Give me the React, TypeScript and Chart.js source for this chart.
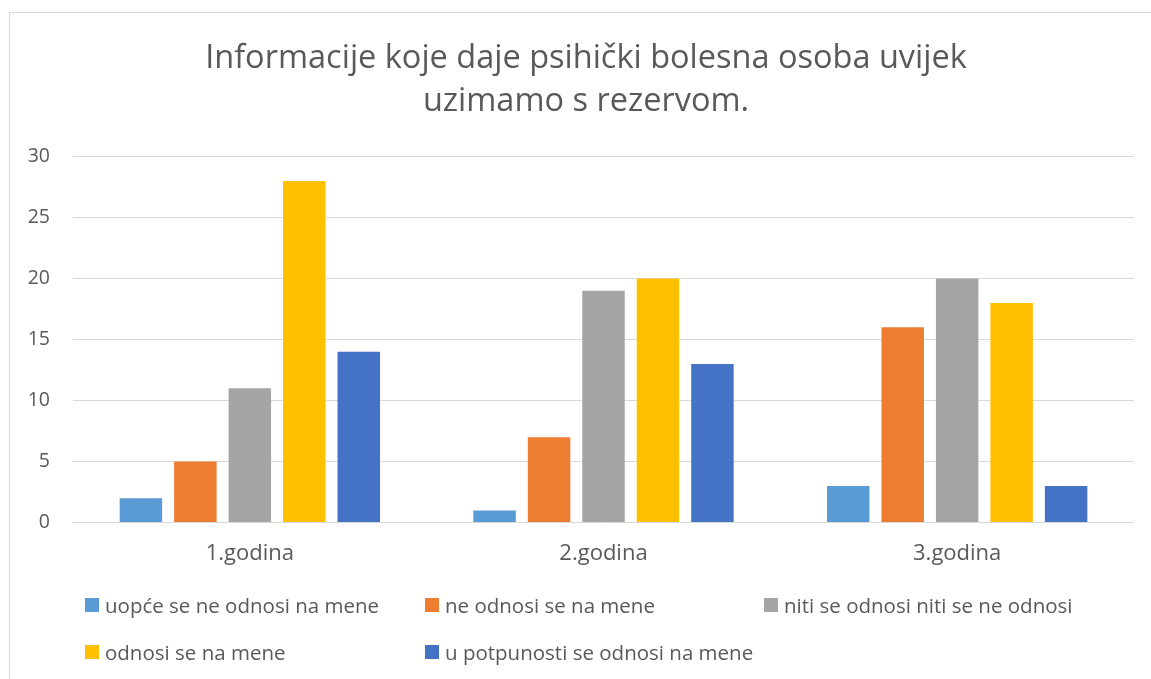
import React, { useEffect, useRef } from "react";
import { Chart, registerables } from "chart.js";

Chart.register(...registerables);

const categories = ["1.godina", "2.godina", "3.godina"];
const seriesNames = [
  "uopće se ne odnosi na mene",
  "ne odnosi se na mene",
  "niti se odnosi niti se ne odnosi",
  "odnosi se na mene",
  "u potpunosti se odnosi na mene",
];
const uopce = [2, 1, 3];
const neOdnosi = [5, 7, 16];
const niti = [11, 19, 20];
const odnosi = [28, 20, 18];
const potpuno = [14, 13, 3];
const seriesValues = [uopce, neOdnosi, niti, odnosi, potpuno];
const colors = ["#5B9BD5", "#ED7D31", "#A5A5A5", "#FFC000", "#4472C4"];
const titleLines = [
  "Informacije koje daje psihički bolesna osoba uvijek",
  "uzimamo s rezervom.",
];
const yTicks = [0, 5, 10, 15, 20, 25, 30];

const FONT = "'Open Sans', Lato, sans-serif";
const TEXT = "#595959";

// legend item positions (page coords)
const legendPos = [
  { x: 85, y: 598 },
  { x: 425, y: 598 },
  { x: 764, y: 598 },
  { x: 85, y: 645 },
  { x: 425, y: 645 },
];

export default function App() {
  const ref = useRef<HTMLCanvasElement | null>(null);
  useEffect(() => {
    if (!ref.current) return;
    const chart = new Chart(ref.current, {
      type: "bar",
      data: {
        labels: categories,
        datasets: seriesNames.map((name, i) => ({
          label: name,
          data: seriesValues[i],
          backgroundColor: colors[i],
          borderWidth: 0,
          categoryPercentage: 0.77,
          barPercentage: 0.78,
        })),
      },
      options: {
        animation: false,
        responsive: true,
        maintainAspectRatio: false,
        layout: { padding: { left: 0, right: 0, top: 0, bottom: 134 } },
        plugins: {
          legend: { display: false },
          tooltip: { enabled: false },
          title: {
            display: true,
            text: titleLines,
            color: TEXT,
            font: { family: FONT, size: 32.5, weight: "normal", lineHeight: 1.3 },
            padding: { top: 25, bottom: 34 },
          },
        },
        scales: {
          x: {
            grid: { display: false },
            border: { display: false },
            ticks: {
              color: TEXT,
              font: { family: FONT, size: 22 },
              padding: 10,
            },
          },
          y: {
            min: 0,
            max: 30,
            afterBuildTicks: (axis: any) => {
              axis.ticks = yTicks.map((v) => ({ value: v }));
            },
            afterFit: (axis: any) => {
              axis.width = 63;
            },
            grid: { color: "#d9d9d9", lineWidth: 1, drawTicks: false },
            border: { display: false },
            ticks: {
              color: TEXT,
              font: { family: FONT, size: 19.5 },
              padding: 23,
            },
          },
          spacer: {
            type: "linear",
            position: "right",
            display: true,
            grid: { display: false },
            border: { display: false },
            ticks: { display: false },
            afterFit: (axis: any) => {
              axis.width = 28;
            },
          },
        },
      },
    });
    return () => chart.destroy();
  }, []);

  return (
    <div
      style={{
        position: "fixed",
        left: 0,
        top: 0,
        width: 1151,
        height: 679,
        overflow: "hidden",
        background: "#fff",
      }}
    >
      <div
        style={{
          position: "absolute",
          left: 9,
          top: 12,
          width: 1154,
          height: 700,
          border: "1px solid #d9d9d9",
          boxSizing: "border-box",
        }}
      >
        <canvas ref={ref} />
      </div>
      {seriesNames.map((name, i) => (
        <div
          key={name}
          style={{
            position: "absolute",
            left: legendPos[i].x,
            top: legendPos[i].y,
            height: 14,
            display: "flex",
            alignItems: "center",
            whiteSpace: "nowrap",
            fontFamily: FONT,
            fontSize: 20.5,
            color: TEXT,
          }}
        >
          <span
            style={{
              display: "inline-block",
              width: 14,
              height: 14,
              background: colors[i],
              marginRight: 6,
            }}
          />
          <span>{name}</span>
        </div>
      ))}
    </div>
  );
}
